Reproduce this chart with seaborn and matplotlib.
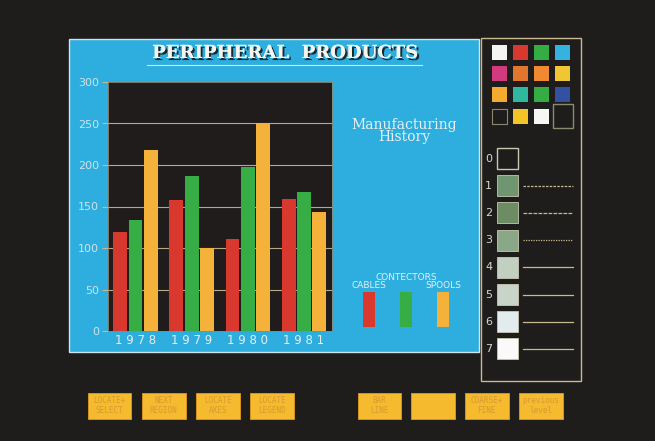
import numpy as np
import pandas as pd
import matplotlib
matplotlib.use("Agg")
import matplotlib.pyplot as plt
import matplotlib.patheffects as pe
from matplotlib.patches import Rectangle
import seaborn as sns

# data
years = ["1978", "1979", "1980", "1981"]
products = ["CABLES", "CONTECTORS", "SPOOLS"]
cables = [119, 158, 111, 159]
connectors = [134, 187, 197, 167]
spools = [218, 100, 250, 143]
y_ticks = [0, 50, 100, 150, 200, 250, 300]

palette_rows = [
    ["#f4f4f2", "#d8382e", "#34ad44", "#35b3e0"],
    ["#d23a80", "#e2762e", "#f08a32", "#f0c634"],
    ["#f3aa2e", "#2fb8a0", "#35ad44", "#3450a0"],
    [None, "#f5c426", "#f6f6f4", None],
]
gray_levels = ["0", "1", "2", "3", "4", "5", "6", "7"]
gray_colors = [None, "#6f9670", "#6d8c64", "#8aa888", "#c2d0c2", "#c8d4c8", "#e2ecee", "#fafafa"]
gray_styles = [None, (0, (2, 1)), (0, (3, 1)), (0, (1, 1)), "-", "-", "-", "-"]
buttons = ["LOCATE+\nSELECT", "NEXT\nREGION", "LOCATE\nAXES", "LOCATE\nLEGEND",
           "BAR\nLINE", "", "COARSE+\nFINE", "previous\nlevel"]

df = pd.DataFrame({
    "year": years * 3,
    "product": [p for p in products for _ in years],
    "units": cables + connectors + spools,
})

BG = "#1e1d1c"
BLUE = "#2eaede"
TAN = "#c9b98e"
LIGHT = "#d6e8ee"
bar_colors = ["#d8382e", "#37ad45", "#f4b23a"]

W, H = 655, 441
fig = plt.figure(figsize=(W / 100, H / 100), dpi=100, facecolor=BG)

# background layer in pixel coordinates
bg = fig.add_axes([0, 0, 1, 1], zorder=0)
bg.set_xlim(0, W)
bg.set_ylim(H, 0)
bg.axis("off")
bg.add_patch(Rectangle((69, 38.5), 410, 313.5, facecolor=BLUE, edgecolor="#cfe4ea", lw=1))

# title with drop shadow and underline
bg.text(285, 53, "PERIPHERAL  PRODUCTS", ha="center", va="center", fontsize=13,
        family="DejaVu Serif", weight="bold", color="#f4f4f0",
        path_effects=[pe.withSimplePatchShadow(offset=(1.5, -1.5), shadow_rgbFace="#1c2a30", alpha=1),
                      pe.Normal()])
bg.plot([147, 422], [64.5, 64.5], color="#dfe9ec", lw=0.8)

bg.text(404, 131, "Manufacturing\nHistory", ha="center", va="center", fontsize=10,
        family="DejaVu Serif", color="#e8f0f2", linespacing=0.9)

# legend
for i, (lab, col) in enumerate(zip(products, bar_colors)):
    x = 363 + i * 37
    bg.add_patch(Rectangle((x, 292), 12, 35, facecolor=col, edgecolor="none"))
bg.text(369, 286, "CABLES", ha="center", va="center", fontsize=6.5, color="#e4f0f4")
bg.text(406, 278, "CONTECTORS", ha="center", va="center", fontsize=6.5, color="#e4f0f4")
bg.text(443, 286, "SPOOLS", ha="center", va="center", fontsize=6.5, color="#e4f0f4")

# right hand palette panel
bg.add_patch(Rectangle((480.5, 37.5), 100, 343, facecolor="none", edgecolor=TAN, lw=1))
for r, row in enumerate(palette_rows):
    for c, col in enumerate(row):
        x = 491.5 + c * 21.2
        y = 45 + r * 21.2
        if col is None:
            if r == 3 and c == 3:
                bg.add_patch(Rectangle((553, 104), 20, 24, facecolor="none", edgecolor="#8a8a70", lw=1))
            else:
                bg.add_patch(Rectangle((x, y), 15, 15, facecolor="none", edgecolor="#8a8a70", lw=0.8))
        else:
            bg.add_patch(Rectangle((x, y), 15, 15, facecolor=col, edgecolor="none"))

for i, (lab, col, ls) in enumerate(zip(gray_levels, gray_colors, gray_styles)):
    y = 148 + i * 27.2
    bg.text(488.5, y + 10.5, lab, ha="center", va="center", fontsize=8, color="#d8d8cc")
    if col is None:
        bg.add_patch(Rectangle((496.5, y), 21, 21, facecolor="none", edgecolor="#c8c8b0", lw=1))
    else:
        bg.add_patch(Rectangle((496.5, y), 21, 21, facecolor=col, edgecolor="#c8c8b0", lw=0.6))
        bg.plot([523, 573], [y + 10.5, y + 10.5], color=TAN, lw=0.9, linestyle=ls)

# soft keys along the bottom
button_x = [87.5, 142, 196, 250, 357.5, 411, 465, 519]
for x, lab in zip(button_x, buttons):
    bg.add_patch(Rectangle((x, 392.5), 43.5, 26.5, facecolor="#f5ba2e", edgecolor="#e09a20", lw=0.6))
    bg.text(x + 21.75, 405.8, lab, ha="center", va="center", fontsize=5.5,
            family="DejaVu Sans Mono", color="#d89a30", linespacing=1.1)

# the bar chart itself
ax = fig.add_axes([107.5 / W, (H - 331) / H, (332 - 107.5) / W, (331 - 82) / H], zorder=1)
ax.set_facecolor("#1f1c1b")
sns.barplot(data=df, x="year", y="units", hue="product", hue_order=products,
            palette=bar_colors, saturation=1, width=0.82, gap=0.1,
            legend=False, ax=ax, errorbar=None)
ax.set_xlim(-0.5, 3.5)
ax.set_ylim(0, 300)
ax.set_yticks(y_ticks)
ax.set_yticklabels([str(v) for v in y_ticks])
for v in y_ticks[1:-1]:
    ax.axhline(v, color="#b8aa80", lw=0.8, zorder=0)
ax.set_axisbelow(True)
ax.tick_params(axis="y", colors=TAN, labelcolor="#cfe2ea", labelsize=8, length=4, width=0.8, pad=2)
ax.tick_params(axis="x", length=0, labelcolor="#e6eef0", labelsize=8.5, pad=2)
ax.set_xticklabels([" ".join(y) for y in years])
ax.set_xlabel("")
ax.set_ylabel("")
for s in ax.spines.values():
    s.set_color("#8c8878")
    s.set_linewidth(0.6)

fig.savefig("out.png", dpi=100, facecolor=BG)
